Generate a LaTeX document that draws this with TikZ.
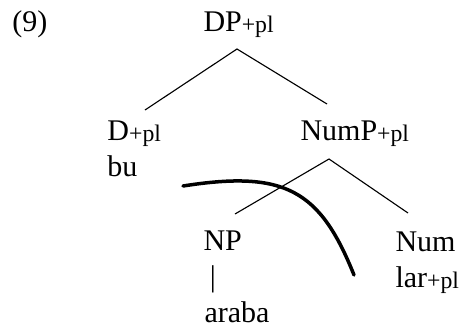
\documentclass[tikz,border=0pt]{standalone}
\usepackage{fontspec}
\setmainfont{Liberation Serif}
\usetikzlibrary{positioning}
\newcommand{\featpl}{\raisebox{-0.7pt}{\fontsize{9.5}{9.5}\selectfont+pl}}

\begin{document}
\begin{tikzpicture}[
    x=0.4pt, y=-0.4pt,
    word/.style={inner sep=0pt, anchor=base west,
                 font=\fontsize{12}{14.4}\selectfont},
    branch/.style={line width=0.45pt},
    cut/.style={line width=1.4pt, line cap=round}
]
  \useasboundingbox (0,0) rectangle (461,328);

  % Example number and root
  \node[word] (exnum) at (12,31) {(9)};
  \node[word] (dp) at (203,31) {DP\featpl};

  % Daughters of DP
  \node[word] (d) at (107,140) {D\featpl};
  \node[word] (bu) at ([yshift=-14.4pt]d.base west) {bu};
  \node[word] (nump) at (300,140) {NumP\featpl};

  % Daughters of NumP
  \node[word] (np) at (203,250) {NP};
  \node[word, anchor=base] (bar) at (213,286) {|};
  \node[word] (araba) at (204,322) {araba};
  \node[word] (num) at (395,251) {Num};
  \node[word] (lar) at ([yshift=-14.4pt]num.base west) {lar\featpl};

  % Branch points
  \coordinate (dp-foot) at (237,49);
  \coordinate (d-head) at (145,110);
  \coordinate (nump-head) at (327,104);
  \coordinate (nump-foot) at (329,159);
  \coordinate (np-head) at (235,214);
  \coordinate (num-head) at (408,213);

  \draw[branch] (d-head) -- (dp-foot) -- (nump-head);
  \draw[branch] (np-head) -- (nump-foot) -- (num-head);

  % Cut line
  \coordinate (cut-start) at (183,186);
  \coordinate (cut-end) at (354,275);
  \draw[cut] (cut-start) .. controls (285,170) and (320,190) .. (cut-end);

\end{tikzpicture}
\end{document}
